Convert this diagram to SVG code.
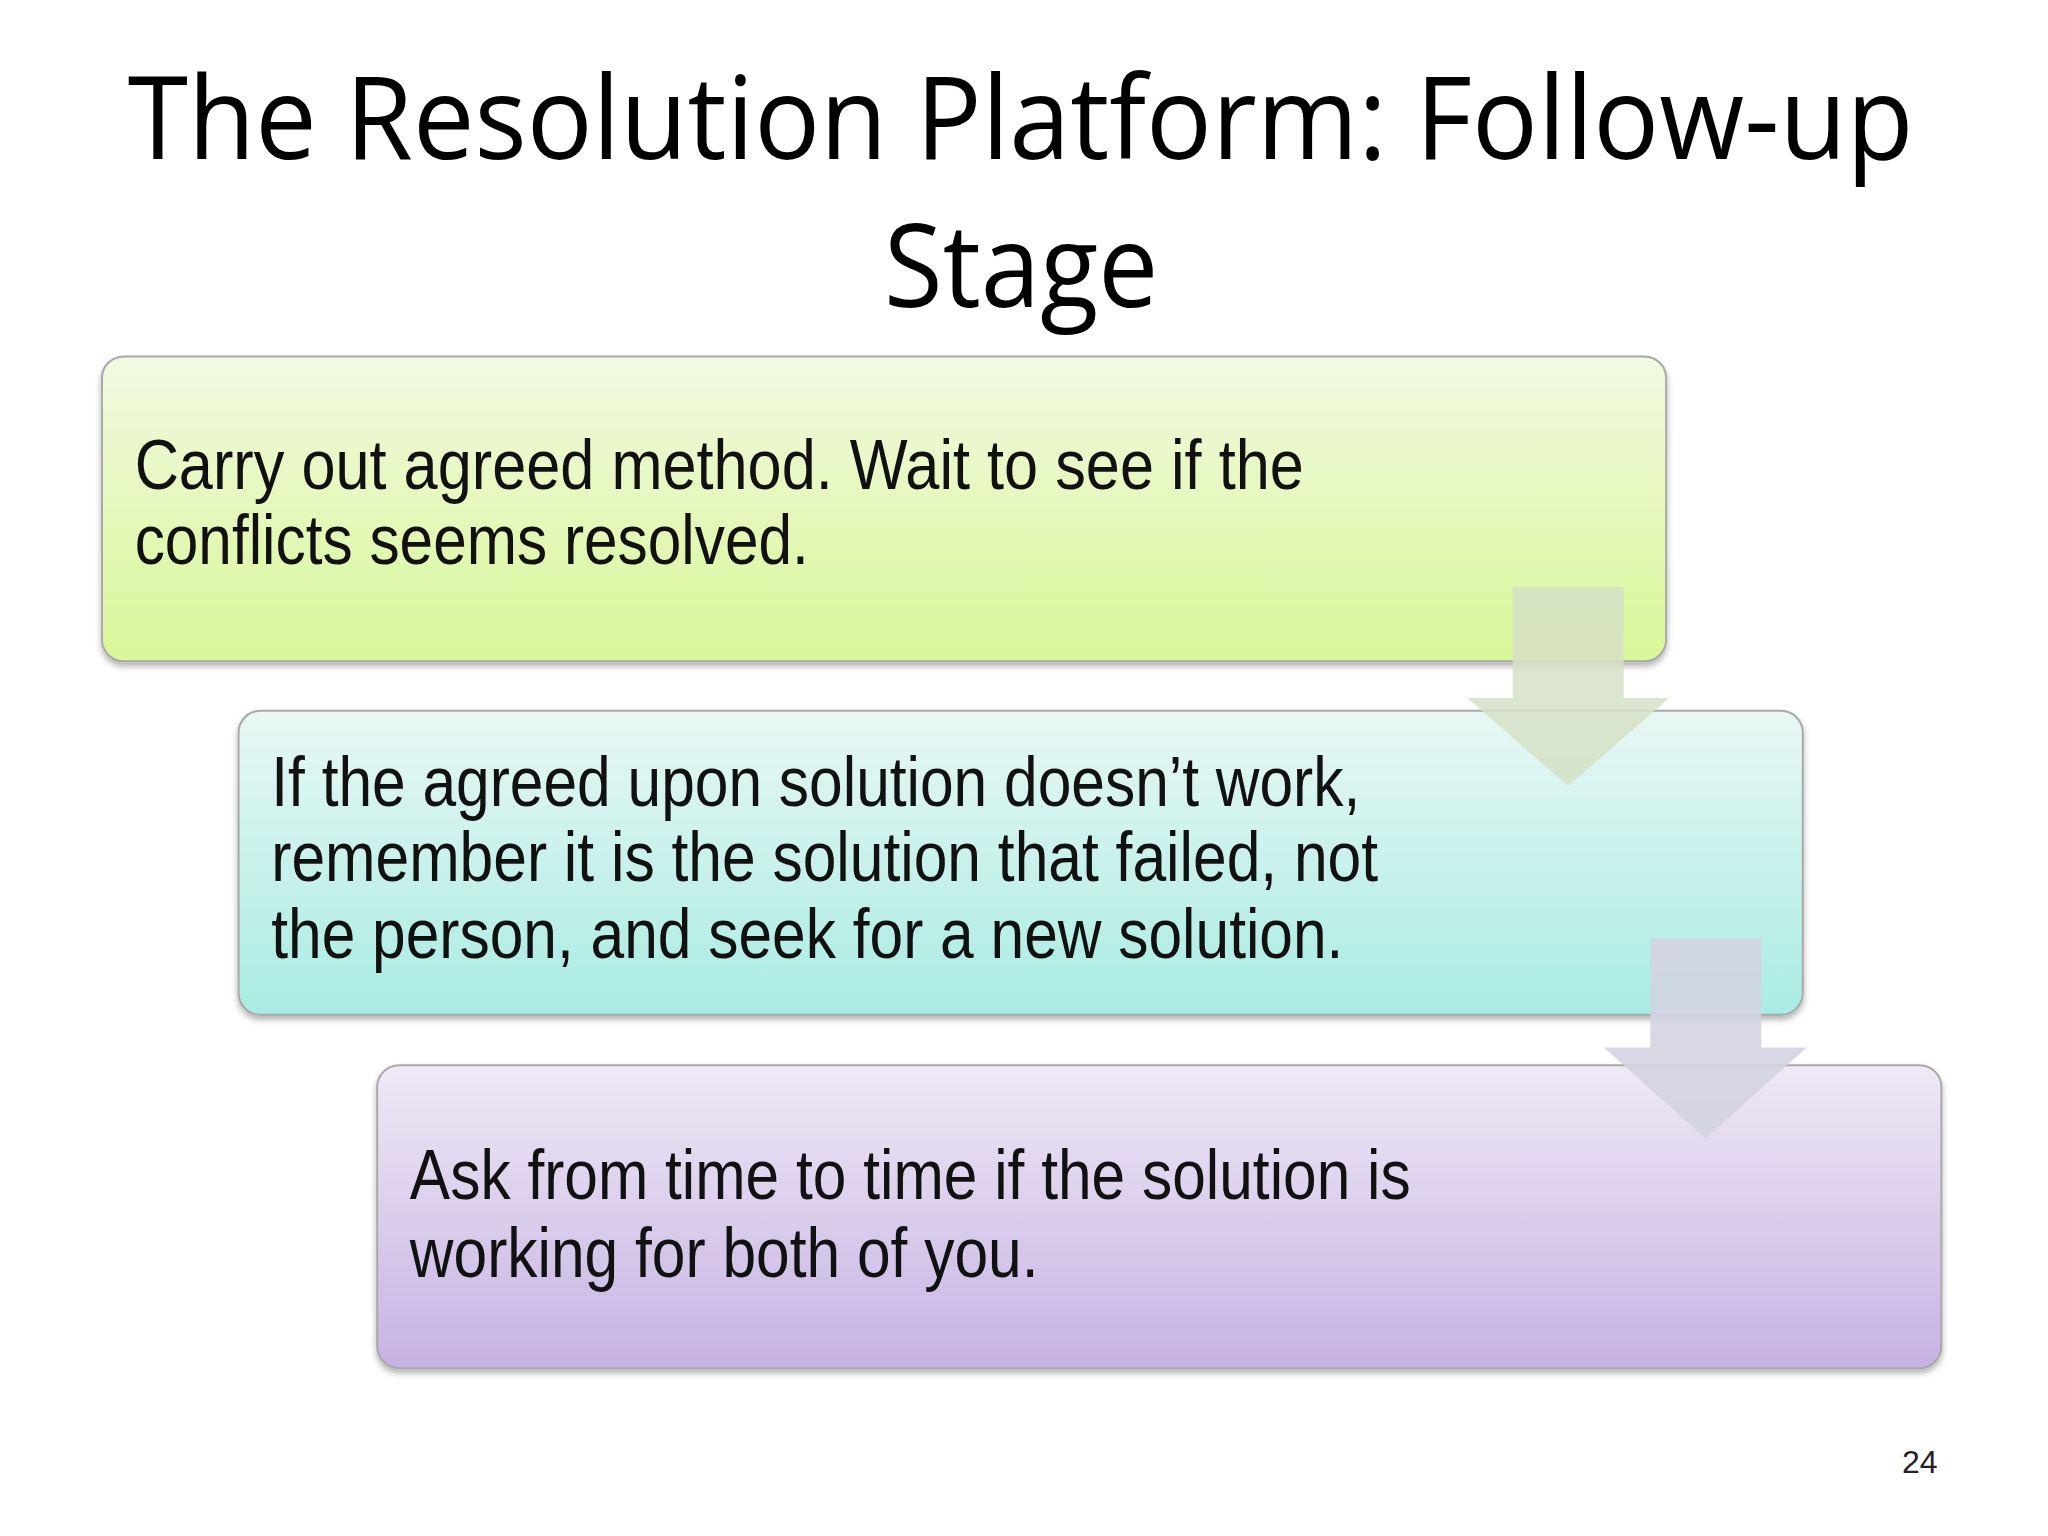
<svg xmlns="http://www.w3.org/2000/svg" width="2048" height="1536" viewBox="0 0 2048 1536">
<defs>
<linearGradient id="g1" x1="0" y1="0" x2="0" y2="1"><stop offset="0" stop-color="#f2f9e2"/><stop offset="1" stop-color="#d8f797"/></linearGradient>
<linearGradient id="g2" x1="0" y1="0" x2="0" y2="1"><stop offset="0" stop-color="#e9f7f4"/><stop offset="1" stop-color="#a8ece3"/></linearGradient>
<linearGradient id="g3" x1="0" y1="0" x2="0" y2="1"><stop offset="0" stop-color="#efe9f5"/><stop offset="1" stop-color="#c6b2e3"/></linearGradient>
<filter id="sh" x="-5%" y="-5%" width="110%" height="115%"><feDropShadow dx="0" dy="4" stdDeviation="3" flood-color="#000" flood-opacity="0.3"/></filter>
</defs>
<style>
.box{stroke:#a8a8a8;stroke-width:2;filter:url(#sh)}
.t{font-family:"Liberation Sans",Arial,sans-serif;font-size:72px;fill:#111}
.title{font-family:"Open Sans","Liberation Sans",sans-serif;font-size:116px;fill:#000}
</style>
<rect width="2048" height="1536" fill="#fff"/>
<g transform="scale(0.99)">
<text class="title" x="129" y="161" textLength="1804" lengthAdjust="spacingAndGlyphs">The Resolution Platform: Follow-up</text>
<text class="title" x="893" y="310" textLength="277" lengthAdjust="spacingAndGlyphs">Stage</text>
<g id="node1"><rect class="box" x="103" y="360" width="1580" height="308" rx="22" fill="url(#g1)"/>
<text class="t" x="136" y="494" textLength="1181" lengthAdjust="spacingAndGlyphs">Carry out agreed method.  Wait to see if the</text>
<text class="t" x="136" y="570" textLength="681" lengthAdjust="spacingAndGlyphs">conflicts seems resolved.</text></g>
<g id="node2"><rect class="box" x="241" y="718" width="1580" height="307" rx="22" fill="url(#g2)"/>
<text class="t" x="274" y="814" textLength="1100" lengthAdjust="spacingAndGlyphs">If the agreed upon solution doesn’t work,</text>
<text class="t" x="274" y="890" textLength="1118" lengthAdjust="spacingAndGlyphs">remember it is the solution that failed, not</text>
<text class="t" x="274" y="968" textLength="1083" lengthAdjust="spacingAndGlyphs">the person, and seek for a new solution.</text></g>
<g id="node3"><rect class="box" x="381" y="1076" width="1580" height="306" rx="22" fill="url(#g3)"/>
<text class="t" x="414" y="1211" textLength="1011" lengthAdjust="spacingAndGlyphs">Ask from time to time if the solution is</text>
<text class="t" x="414" y="1290" textLength="635" lengthAdjust="spacingAndGlyphs">working for both of you.</text></g>
<g id="connectors">
<polygon points="1528,593 1640,593 1640,705 1686,705 1584,794 1482,705 1528,705" fill="#d6e0c6" fill-opacity="0.85"/>
<polygon points="1667,948 1779,948 1779,1058 1825,1058 1723,1150 1620,1058 1667,1058" fill="#d3d3e2" fill-opacity="0.9"/>
</g>
</g>
<text x="1902" y="1473" font-family="Liberation Sans,Arial,sans-serif" font-size="32" fill="#222">24</text>
</svg>
